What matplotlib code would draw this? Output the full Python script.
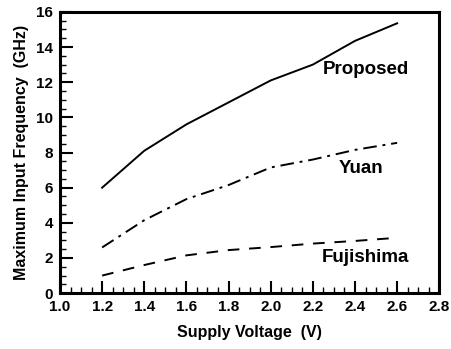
import matplotlib
matplotlib.use('Agg')
import matplotlib.pyplot as plt
from matplotlib.ticker import MultipleLocator

# values
voltage = [1.2, 1.4, 1.6, 1.8, 2.0, 2.2, 2.4, 2.6]
proposed = [6.0, 8.1, 9.6, 10.85, 12.1, 13.0, 14.35, 15.35]
yuan = [2.6, 4.15, 5.35, 6.15, 7.15, 7.6, 8.15, 8.55]
fujishima = [1.0, 1.6, 2.15, 2.45, 2.62, 2.82, 2.97, 3.15]

plt.rcParams['font.family'] = ['Liberation Sans', 'DejaVu Sans']
plt.rcParams['font.weight'] = 'bold'

fig = plt.figure(figsize=(4.51, 3.49), dpi=100)
ax = fig.add_axes([0.133, 0.160, 0.841, 0.806])

ax.plot(voltage, proposed, color='black', lw=1.4)
ax.plot(voltage, yuan, color='black', lw=1.4, dashes=(7, 3, 1.5, 3))
ax.plot(voltage, fujishima, color='black', lw=1.4, dashes=(6, 5))

# curve labels
ax.text(2.45, 12.7, 'Proposed', ha='center', va='center', fontsize=13.5, fontweight='bold')
ax.text(2.43, 7.1, 'Yuan', ha='center', va='center', fontsize=13.5, fontweight='bold')
ax.text(2.45, 2.05, 'Fujishima', ha='center', va='center', fontsize=13.5, fontweight='bold')

ax.set_xlim(1.0, 2.8)
ax.set_ylim(0, 16)
ax.xaxis.set_major_locator(MultipleLocator(0.2))
ax.xaxis.set_minor_locator(MultipleLocator(0.05))
ax.yaxis.set_major_locator(MultipleLocator(2))
ax.yaxis.set_minor_locator(MultipleLocator(0.5))
ax.xaxis.set_major_formatter(plt.FuncFormatter(lambda v, p: f"{v:.1f}"))

ax.tick_params(which='major', direction='in', length=9, width=1.5, labelsize=11, pad=5)
ax.tick_params(which='minor', direction='in', length=4, width=1)
for lbl in ax.get_xticklabels() + ax.get_yticklabels():
    lbl.set_fontweight('bold')

for sp in ax.spines.values():
    sp.set_linewidth(2.2)

ax.set_xlabel('Supply Voltage  (V)', fontsize=11.5, fontweight='bold', labelpad=8)
ax.set_ylabel('Maximum Input Frequency  (GHz)', fontsize=11.5, fontweight='bold', labelpad=5)

fig.savefig('out.png', dpi=100)
